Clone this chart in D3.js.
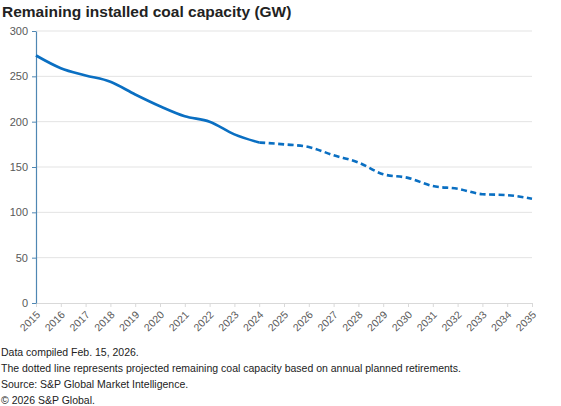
<!DOCTYPE html>
<html>
<head>
<meta charset="utf-8">
<script src="https://cdn.jsdelivr.net/npm/d3@7"></script>
<style>
  body { margin: 0; background: #fff; }
  svg { display: block; font-family: "Liberation Sans", Arial, sans-serif; }
</style>
</head>
<body>
<div id="chart"></div>
<script>
// data
const years = d3.range(2015, 2036);
const actual = [273, 259, 251, 244, 230, 217, 206, 200, 186, 177];
const projected = [177, 175, 172, 163, 155, 142, 138, 129, 126, 120, 119, 115];
const yTicks = [0, 50, 100, 150, 200, 250, 300];
const notes = [
  "Data compiled Feb. 15, 2026.",
  "The dotted line represents projected remaining coal capacity based on annual planned retirements.",
  "Source: S&P Global Market Intelligence.",
  "\u00a9 2026 S&P Global."
];

const W = 561, H = 406;
const margin = {top: 31, right: 29, bottom: 103, left: 36},
    width = W - margin.left - margin.right,
    height = H - margin.top - margin.bottom;

const root = d3.select("#chart").append("svg")
    .attr("width", W)
    .attr("height", H);

// Title
root.append("text")
  .attr("x", 2)
  .attr("y", 17)
  .style("font-size", "15.5px")
  .style("font-weight", "bold")
  .style("fill", "#222")
  .text("Remaining installed coal capacity (GW)");

const svg = root.append("g")
  .attr("transform", `translate(${margin.left},${margin.top})`);

const x = d3.scaleLinear()
  .domain([2015, 2035])
  .range([0, width]);

const y = d3.scaleLinear()
  .domain([0, 300])
  .range([height, 0]);

// gridlines
svg.append("g")
  .selectAll("line")
  .data(yTicks.filter(d => d > 0))
  .join("line")
    .attr("x1", 0)
    .attr("x2", width)
    .attr("y1", d => y(d))
    .attr("y2", d => y(d))
    .attr("stroke", "#e3e3e3")
    .attr("stroke-width", 1);

// X axis
const xAxis = svg.append("g")
  .attr("transform", `translate(0, ${height})`)
  .call(d3.axisBottom(x).tickValues(years).tickFormat(d3.format("d")).tickSize(4).tickSizeOuter(0));
xAxis.select(".domain").attr("stroke", "#d9d9d9");
xAxis.selectAll(".tick line").attr("stroke", "#d9d9d9");
xAxis.selectAll(".tick text")
  .attr("fill", "#595959")
  .style("font-size", "10.5px")
  .attr("text-anchor", "end")
  .attr("x", 0)
  .attr("y", 0)
  .attr("dy", "0.32em")
  .attr("transform", "translate(2,10) rotate(-45)");

// Y axis
const yAxis = svg.append("g")
  .call(d3.axisLeft(y).tickValues(yTicks).tickSize(4).tickSizeOuter(0));
yAxis.select(".domain").attr("stroke", "#4f87b3").attr("stroke-width", 1.2);
yAxis.selectAll(".tick line").attr("stroke", "#4f87b3");
yAxis.selectAll(".tick text")
  .attr("fill", "#595959")
  .attr("x", -8)
  .style("font-size", "11px");

const line = d3.line()
  .x(d => x(d[0]))
  .y(d => y(d[1]))
  .curve(d3.curveMonotoneX);

const actualPts = actual.map((v, i) => [years[i], v]);
const projPts = projected.map((v, i) => [years[i + actual.length - 1], v]);

svg.append("path")
  .datum(actualPts)
  .attr("fill", "none")
  .attr("stroke", "#0a6fc2")
  .attr("stroke-width", 2.6)
  .attr("d", line);

svg.append("path")
  .datum(projPts)
  .attr("fill", "none")
  .attr("stroke", "#0a6fc2")
  .attr("stroke-width", 2.6)
  .attr("stroke-dasharray", "6,3.5")
  .attr("d", line);

// footnotes
root.append("g")
  .selectAll("text")
  .data(notes)
  .join("text")
    .attr("x", 1)
    .attr("y", (d, i) => 356 + i * 16)
    .style("font-size", "10.5px")
    .style("fill", "#222")
    .text(d => d);
</script>
</body>
</html>
